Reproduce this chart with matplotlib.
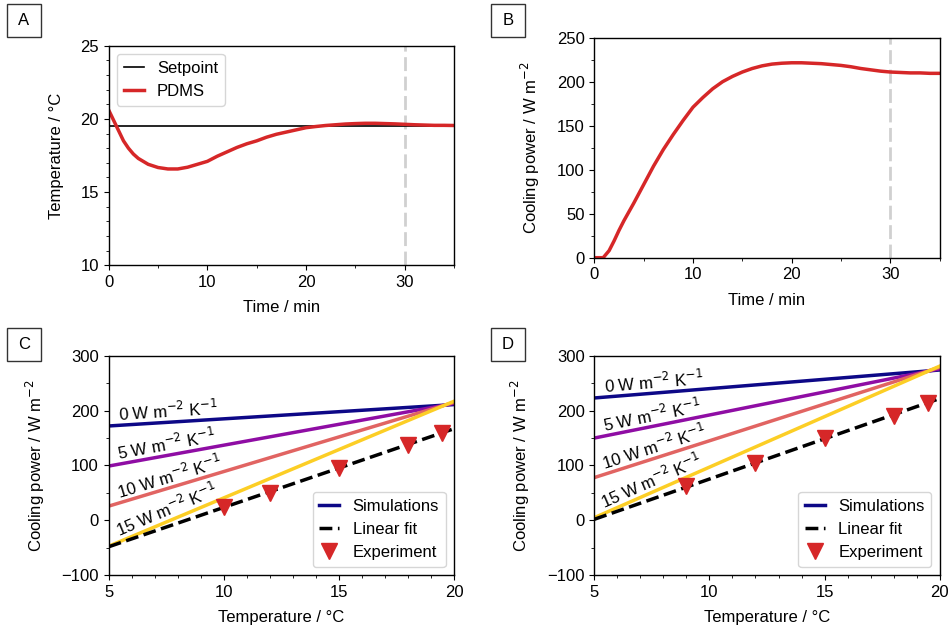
import numpy as np
import matplotlib
matplotlib.use("Agg")
import matplotlib.pyplot as plt
from matplotlib.patches import Rectangle
from matplotlib.ticker import MultipleLocator
from matplotlib.lines import Line2D

plt.rcParams['font.family'] = ['Liberation Sans', 'DejaVu Sans']
plt.rcParams['font.size'] = 12
plt.rcParams['axes.linewidth'] = 1.0
plt.rcParams['legend.handlelength'] = 1.2

# ---- Panel A: temperature transient ----
time_a = [0, 0.5, 1, 1.5, 2, 2.5, 3, 4, 5, 6, 7, 8, 9, 10, 11, 12, 13, 14, 15, 16,
          17, 18, 19, 20, 21, 22, 23, 24, 25, 26, 27, 28, 29, 30, 31, 32, 33, 34, 35]
temp_pdms = [20.6, 19.9, 19.2, 18.5, 18.0, 17.6, 17.3, 16.9, 16.68, 16.58, 16.58, 16.7,
             16.9, 17.1, 17.45, 17.75, 18.05, 18.3, 18.5, 18.75, 18.95, 19.1, 19.25,
             19.4, 19.48, 19.55, 19.6, 19.65, 19.68, 19.7, 19.7, 19.68, 19.66, 19.63,
             19.6, 19.58, 19.56, 19.56, 19.55]
setpoint = 19.5

# ---- Panel B: cooling power transient ----
time_b = [0, 0.5, 0.9, 1.5, 2, 2.5, 3, 4, 5, 6, 7, 8, 9, 10, 11, 12, 13, 14, 15, 16,
          17, 18, 19, 20, 21, 22, 23, 24, 25, 26, 27, 28, 29, 30, 31, 32, 33, 34, 35]
power_b = [0, 0, 0, 8, 19, 31, 42, 62, 83, 104, 123, 140, 156, 171, 182, 192, 200,
           206, 211, 215, 218, 220, 221, 221.5, 221.5, 221, 220.5, 219.5, 218.5, 217,
           215, 213.5, 212, 211, 210.5, 210, 210, 209.5, 209.5]

# ---- Panels C and D: steady-state cooling power vs temperature ----
sim_labels = ["0 W m$^{-2}$ K$^{-1}$", "5 W m$^{-2}$ K$^{-1}$",
              "10 W m$^{-2}$ K$^{-1}$", "15 W m$^{-2}$ K$^{-1}$"]
sim_temp = [5, 20]
sim_c = [[172, 211], [99, 213], [26, 215], [-47, 217]]
sim_d = [[223, 274], [150, 276], [78, 279], [5, 281]]
fit_c = [-48, 167]
fit_d = [2, 222]
exp_temp_c = [10, 12, 15, 18, 19.5]
exp_power_c = [24, 50, 96, 138, 159]
exp_temp_d = [9, 12, 15, 18, 19.5]
exp_power_d = [62, 105, 151, 191, 213]

W, H = 950, 634
fig = plt.figure(figsize=(W / 100, H / 100), dpi=100)


def add_axes_px(left, top, right, bottom):
    return fig.add_axes([left / W, 1 - bottom / H, (right - left) / W, (bottom - top) / H])


def panel_tag(letter, x0, y0, x1, y1):
    fig.patches.append(Rectangle((x0 / W, 1 - y1 / H), (x1 - x0) / W, (y1 - y0) / H,
                                 transform=fig.transFigure, fill=True, fc='white',
                                 ec='#333333', lw=1.0))
    fig.text((x0 + x1) / 2 / W, 1 - (y0 + y1) / 2 / H, letter, ha='center',
             va='center', fontsize=12)


red = '#d62728'
sim_colors = [plt.cm.plasma(v) for v in (0.0, 0.3, 0.6, 0.9)]

# Panel A
axA = add_axes_px(108.7, 45.7, 454, 265.3)
axA.axhline(setpoint, color='black', lw=1.2, label='Setpoint')
axA.plot(time_a, temp_pdms, color=red, lw=2.5, label='PDMS')
axA.axvline(30, color='#d0d0d0', lw=2, ls=(0, (5, 2)), zorder=0)
axA.set_xlim(0, 35)
axA.set_ylim(10, 25)
axA.xaxis.set_major_locator(MultipleLocator(10))
axA.xaxis.set_minor_locator(MultipleLocator(5))
axA.yaxis.set_major_locator(MultipleLocator(5))
axA.yaxis.set_minor_locator(MultipleLocator(1))
axA.set_xlabel('Time / min')
axA.set_ylabel('Temperature / °C')
axA.legend(loc='upper left')

# Panel B
axB = add_axes_px(594.3, 37.7, 939.7, 257.7)
axB.plot(time_b, power_b, color=red, lw=2.5)
axB.axvline(30, color='#d0d0d0', lw=2, ls=(0, (5, 2)), zorder=0)
axB.set_xlim(0, 35)
axB.set_ylim(0, 250)
axB.xaxis.set_major_locator(MultipleLocator(10))
axB.xaxis.set_minor_locator(MultipleLocator(5))
axB.yaxis.set_major_locator(MultipleLocator(50))
axB.yaxis.set_minor_locator(MultipleLocator(25))
axB.set_xlabel('Time / min')
axB.set_ylabel('Cooling power / W m$^{-2}$')


def steady_panel(ax, sims, fit, exp_t, exp_p):
    for vals, col in zip(sims, sim_colors):
        ax.plot(sim_temp, vals, color=col, lw=2.5)
    ax.plot(sim_temp, fit, color='black', lw=2.5, ls='--')
    ax.plot(exp_t, exp_p, 'v', color=red, ms=11, ls='none')
    for vals, lab in zip(sims, sim_labels):
        slope = (vals[1] - vals[0]) / (sim_temp[1] - sim_temp[0])
        x0 = 5.45
        y0 = vals[0] + slope * (x0 - sim_temp[0]) + 8
        ang = np.degrees(np.arctan(slope))
        ax.text(x0, y0, lab, rotation=ang, rotation_mode='anchor',
                transform_rotates_text=True, ha='left', va='baseline', fontsize=12)
    ax.set_xlim(5, 20)
    ax.set_ylim(-100, 300)
    ax.xaxis.set_major_locator(MultipleLocator(5))
    ax.xaxis.set_minor_locator(MultipleLocator(1))
    ax.yaxis.set_major_locator(MultipleLocator(100))
    ax.yaxis.set_minor_locator(MultipleLocator(50))
    ax.set_xlabel('Temperature / °C')
    ax.set_ylabel('Cooling power / W m$^{-2}$')
    handles = [Line2D([], [], color=sim_colors[0], lw=2.5),
               Line2D([], [], color='black', lw=2.5, ls='--'),
               Line2D([], [], color=red, marker='v', ms=11, ls='none')]
    ax.legend(handles, ['Simulations', 'Linear fit', 'Experiment'], loc='lower right')


axC = add_axes_px(108.7, 355.7, 454, 575.3)
steady_panel(axC, sim_c, fit_c, exp_temp_c, exp_power_c)
axD = add_axes_px(594.3, 355.7, 939.7, 575.3)
steady_panel(axD, sim_d, fit_d, exp_temp_d, exp_power_d)

axA.yaxis.set_label_coords(-0.129, 0.5)
axB.yaxis.set_label_coords(-0.152, 0.5)
axC.yaxis.set_label_coords(-0.18, 0.5)
axD.yaxis.set_label_coords(-0.18, 0.5)
for ax in (axA, axB, axC, axD):
    ax.xaxis.set_label_coords(0.5, -0.16)

panel_tag('A', 7, 4.3, 40.7, 37.3)
panel_tag('B', 491, 4.3, 524.7, 37.3)
panel_tag('C', 7, 327.7, 40.7, 360.7)
panel_tag('D', 491, 327.7, 524.7, 360.7)

fig.savefig('out.png', dpi=100)
